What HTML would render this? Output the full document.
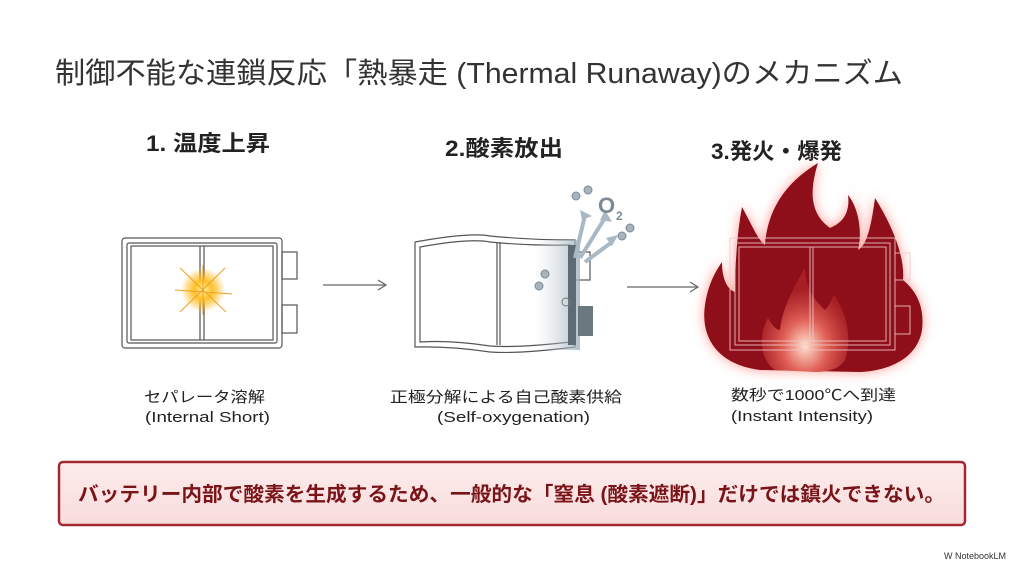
<!DOCTYPE html>
<html><head><meta charset="utf-8"><style>
html,body{margin:0;padding:0;background:#fff;}
svg{display:block;}
text{font-family:"Liberation Sans","Noto Sans CJK JP",sans-serif;}
</style></head><body>
<svg width="1024" height="572" viewBox="0 0 1024 572" xmlns="http://www.w3.org/2000/svg">
<defs>
<radialGradient id="burst"><stop offset="0" stop-color="#fff6b0"/><stop offset="0.4" stop-color="#ffc12a"/><stop offset="1" stop-color="#ffb000" stop-opacity="0"/></radialGradient>
<linearGradient id="fog" x1="0" x2="1"><stop offset="0" stop-color="#c8d2da" stop-opacity="0"/><stop offset="1" stop-color="#9fb0bd"/></linearGradient>
<radialGradient id="glow" cx="0.5" cy="0.75" r="0.55"><stop offset="0" stop-color="#ffe0d0"/><stop offset="0.45" stop-color="#e2645a"/><stop offset="1" stop-color="#b82a2c" stop-opacity="0.6"/></radialGradient>
<linearGradient id="box" x1="0" x2="0" y1="0" y2="1"><stop offset="0" stop-color="#fdecec"/><stop offset="1" stop-color="#f8dcdc"/></linearGradient>
<filter id="blur" x="-20%" y="-20%" width="140%" height="140%"><feGaussianBlur stdDeviation="6"/></filter>
</defs>

<text x="55" y="83" font-size="29" fill="#333" textLength="848" lengthAdjust="spacingAndGlyphs">制御不能な連鎖反応「熱暴走 (Thermal Runaway)のメカニズム</text>

<text x="146" y="151" font-size="22" font-weight="bold" fill="#222" textLength="124" lengthAdjust="spacingAndGlyphs">1. 温度上昇</text>
<text x="445" y="156" font-size="22" font-weight="bold" fill="#222" textLength="118" lengthAdjust="spacingAndGlyphs">2.酸素放出</text>
<text x="711" y="159" font-size="22" font-weight="bold" fill="#222" textLength="131" lengthAdjust="spacingAndGlyphs">3.発火・爆発</text>

<!-- battery 1 -->
<g fill="none" stroke="#555" stroke-width="1.2">
<rect x="122" y="238" width="160" height="110" rx="3"/>
<rect x="127" y="243" width="150" height="100" rx="2"/>
<rect x="131" y="246" width="142" height="94"/>
<line x1="200" y1="246" x2="200" y2="340"/><line x1="204" y1="246" x2="204" y2="340"/>
<rect x="282" y="252" width="15" height="27"/><rect x="282" y="305" width="15" height="28"/>
</g>
<circle cx="203" cy="290" r="22" fill="url(#burst)"/>
<g stroke="#f0a020" stroke-width="1"><line x1="180" y1="268" x2="226" y2="312"/><line x1="225" y1="268" x2="180" y2="312"/><line x1="203" y1="265" x2="203" y2="315"/><line x1="175" y1="290" x2="232" y2="294"/></g>

<!-- arrow 1 -->
<g stroke="#666" stroke-width="1.2" fill="none"><line x1="323" y1="285" x2="385" y2="285"/><polyline points="378,280 386,285 378,290"/></g>

<!-- battery 2 -->
<g fill="none" stroke="#555" stroke-width="1.2">
<path d="M415 242 Q470 232 490 236 Q530 240 575 240 L575 347 Q520 354 490 352 Q450 346 415 347 Z"/>
<path d="M420 247 Q470 238 490 242 Q530 246 570 245 L570 342 Q520 348 490 346 Q450 340 420 342 Z"/>
<line x1="497" y1="242" x2="497" y2="345"/><line x1="500" y1="242" x2="500" y2="345"/>
<rect x="575" y="252" width="15" height="28"/>
</g>
<rect x="535" y="240" width="45" height="110" fill="url(#fog)" opacity="0.8"/>
<rect x="568" y="245" width="8" height="100" fill="#5d6b75"/>
<rect x="578" y="306" width="15" height="30" fill="#6c7880"/>
<circle cx="566" cy="302" r="4" fill="none" stroke="#777"/>
<g fill="#a8b4bd" stroke="#7d8a94"><circle cx="545" cy="274" r="4"/><circle cx="539" cy="286" r="4"/><circle cx="576" cy="196" r="4"/><circle cx="588" cy="190" r="4"/><circle cx="622" cy="236" r="4"/><circle cx="630" cy="228" r="4"/></g>
<g stroke="#a8b8c4" stroke-width="4" fill="none"><line x1="575" y1="258" x2="585" y2="215"/><line x1="580" y1="258" x2="605" y2="218"/><line x1="585" y1="262" x2="612" y2="242"/></g>
<g fill="#a8b8c4"><polygon points="580,210 592,216 582,220"/><polygon points="605,210 612,222 600,220"/><polygon points="618,235 612,246 606,238"/></g>
<text x="598" y="213" font-size="22" font-weight="bold" fill="#7d8a94">O</text><text x="616" y="220" font-size="12" font-weight="bold" fill="#7d8a94">2</text>

<!-- arrow 2 -->
<g stroke="#666" stroke-width="1.2" fill="none"><line x1="627" y1="287" x2="697" y2="287"/><polyline points="690,282 698,287 690,292"/></g>

<!-- flame -->
<path id="fl" d="M760 370 C720 365 700 340 705 305 C708 285 715 272 722 262 C722 280 728 290 735 292 C735 260 738 228 742 207 C752 225 758 240 765 245 C768 205 790 180 818 163 C808 195 812 215 830 228 C845 222 850 210 848 195 C860 210 862 235 858 250 C868 245 872 220 875 198 C895 230 905 260 903 280 C915 290 925 305 922 330 C918 355 895 370 860 372 Z" fill="#ff9c94" filter="url(#blur)"/>
<path d="M760 370 C720 365 700 340 705 305 C708 285 715 272 722 262 C722 280 728 290 735 292 C735 260 738 228 742 207 C752 225 758 240 765 245 C768 205 790 180 818 163 C808 195 812 215 830 228 C845 222 850 210 848 195 C860 210 862 235 858 250 C868 245 872 220 875 198 C895 230 905 260 903 280 C915 290 925 305 922 330 C918 355 895 370 860 372 Z" fill="#8e0f1a"/>
<path d="M775 370 C760 360 758 335 768 318 C772 325 776 330 780 330 C782 310 792 290 805 268 C806 290 815 300 825 310 C830 305 832 298 834 295 C848 315 852 340 845 360 C840 368 830 372 815 372 Z" fill="url(#glow)"/>
<g fill="none" stroke="#f2c8c8" stroke-width="1" opacity="0.85">
<rect x="730" y="238" width="165" height="112"/>
<rect x="735" y="243" width="155" height="102"/>
<rect x="739" y="247" width="147" height="94"/>
<line x1="810" y1="247" x2="810" y2="341"/><line x1="813" y1="247" x2="813" y2="341"/>
<rect x="895" y="253" width="15" height="27"/><rect x="895" y="306" width="15" height="28"/>
</g>

<!-- labels -->
<g font-size="15" fill="#222">
<text x="144" y="402" textLength="121" lengthAdjust="spacingAndGlyphs">セパレータ溶解</text>
<text x="145" y="422" textLength="125" lengthAdjust="spacingAndGlyphs">(Internal Short)</text>
<text x="390" y="402" textLength="232" lengthAdjust="spacingAndGlyphs">正極分解による自己酸素供給</text>
<text x="437" y="422" textLength="153" lengthAdjust="spacingAndGlyphs">(Self-oxygenation)</text>
<text x="731" y="400" textLength="165" lengthAdjust="spacingAndGlyphs">数秒で1000℃へ到達</text>
<text x="731" y="421" textLength="142" lengthAdjust="spacingAndGlyphs">(Instant Intensity)</text>
</g>

<!-- bottom box -->
<rect x="59" y="462" width="906" height="63" rx="4" fill="url(#box)" stroke="#a52830" stroke-width="2.5"/>
<text x="78" y="501" font-size="20" font-weight="bold" fill="#7a1418" textLength="867" lengthAdjust="spacingAndGlyphs">バッテリー内部で酸素を生成するため、一般的な「窒息 (酸素遮断)」だけでは鎮火できない。</text>

<text x="944" y="559" font-size="9" fill="#333">W NotebookLM</text>
</svg>
</body></html>
